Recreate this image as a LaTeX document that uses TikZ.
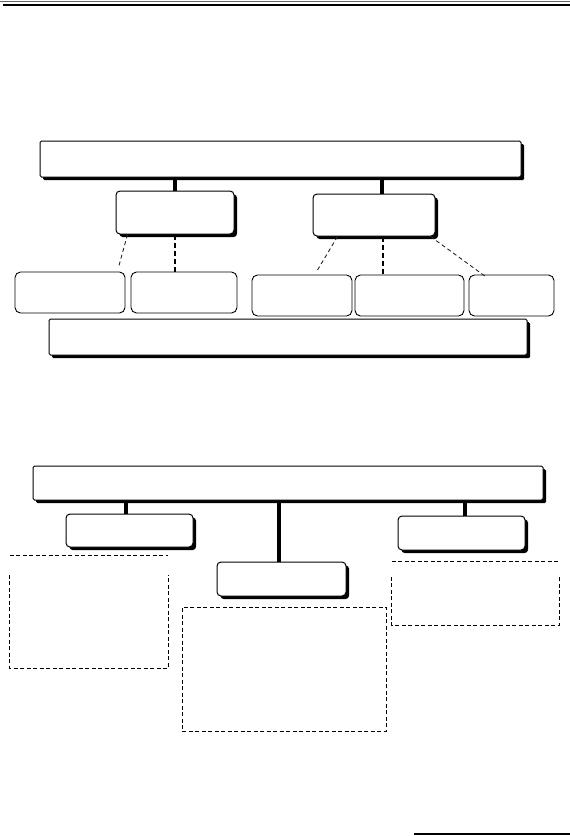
\documentclass[tikz,border=0pt]{standalone}
\usetikzlibrary{shadows,fit}
\begin{document}
\begin{tikzpicture}[x=1pt,y=-1pt,
  shadowed/.style={draw, line width=1pt, fill=white, inner sep=0pt,
    drop shadow={shadow xshift=3.2pt, shadow yshift=-3.2pt, fill=black, opacity=1}},
  bigbox/.style={shadowed, rounded corners=1.5pt},
  midbox/.style={shadowed, rounded corners=4pt},
  leafbox/.style={draw, line width=0.9pt, fill=white, inner sep=0pt, rounded corners=5.5pt},
  thickconn/.style={line width=4.8pt},
  conn/.style={line width=3.4pt},
  dashthick/.style={line width=1.9pt, dash pattern=on 5pt off 3pt},
  dashthin/.style={line width=0.9pt, black!85, dash pattern=on 4pt off 3pt},
  dashbox/.style={line width=0.8pt, dash pattern=on 4pt off 2.5pt}]
\useasboundingbox (0,0) rectangle (570,836);
% header rules
\draw[line width=1pt, black!60] (0,1.5) -- (570,1.5);
\draw[line width=2pt] (3,4.5) -- (570,4.5);
% footer rule
\draw[line width=1.5pt] (414,834) -- (570,834);

% ---- upper diagram ----
\node[bigbox, fit={(40,141)(521,177)}] (T1) {};
\node[midbox, fit={(116,191)(234,234)}] (A) {};
\node[midbox, fit={(313,194)(435,236)}] (B) {};
\node[leafbox, fit={(15,272)(125,313)}] (s1) {};
\node[leafbox, fit={(131,272)(237,313)}] (s2) {};
\node[leafbox, fit={(252,275)(352,316)}] (s3) {};
\node[leafbox, fit={(355,275)(464,316)}] (s4) {};
\node[leafbox, fit={(469,275)(554,316)}] (s5) {};
\node[bigbox, fit={(49,319)(527,355)}] (T2) {};

\draw[thickconn] (A.north) -- (A.north |- T1.south);
\draw[thickconn] ([xshift=8pt]B.north) -- ([xshift=8pt]B.north |- T1.south);

\draw[dashthin] ([xshift=12pt]A.south west) -- ([xshift=-7pt,yshift=4pt]s1.north east);
\draw[dashthick] (A.south) -- (A.south |- s2.north);
\draw[dashthin] ([xshift=25pt]B.south west) -- ([xshift=14pt,yshift=2pt]s3.north);
\draw[dashthick] ([xshift=9pt]B.south) -- ([xshift=9pt]B.south |- s4.north);
\draw[dashthin] ([xshift=-5pt]B.south east) -- ([xshift=17pt,yshift=-2pt]s5.north west);

% ---- lower diagram ----
\node[bigbox, fit={(33,466)(543,500)}] (T3) {};
\node[midbox, fit={(66,514)(193,547)}] (C) {};
\node[midbox, fit={(217,562)(346,596)}] (E) {};
\node[midbox, fit={(398,516)(525,550)}] (D) {};

\draw[conn] ([xshift=-3.5pt]C.north) -- ([xshift=-3.5pt]C.north |- T3.south);
\draw[conn] ([xshift=-2.5pt]E.north) -- ([xshift=-2.5pt]E.north |- T3.south);
\draw[conn] ([xshift=3.5pt]D.north) -- ([xshift=3.5pt]D.north |- T3.south);

% dashed panels
\node[inner sep=0pt, fit={(10,556)(168,668)}] (P1) {};
\draw[dashbox] (P1.north west) -- (P1.north east);
\draw[dashbox] ([yshift=-19pt]P1.north west) -- (P1.south west) -- (P1.south east) -- ([yshift=-19pt]P1.north east);

\node[inner sep=0pt, draw, dashbox, fit={(182,607)(386,731)}] (P2) {};

\node[inner sep=0pt, fit={(392,562)(559,625)}] (P3) {};
\draw[dashbox] (P3.north west) -- (P3.north east);
\draw[dashbox] ([yshift=-15pt]P3.north west) -- (P3.south west) -- (P3.south east) -- ([yshift=-15pt]P3.north east);
\end{tikzpicture}
\end{document}
